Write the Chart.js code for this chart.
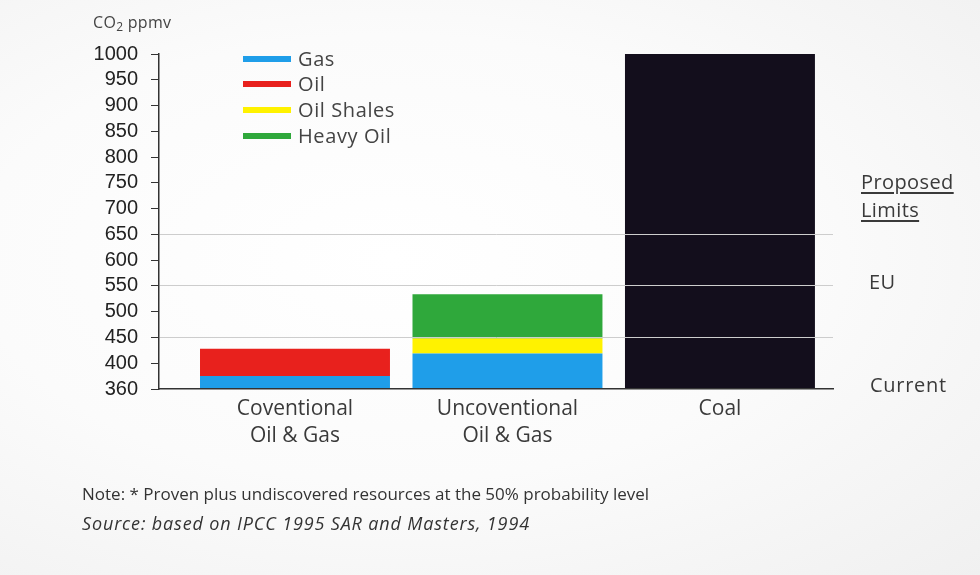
<!DOCTYPE html>
<html><head><meta charset="utf-8">
<script src="https://cdn.jsdelivr.net/npm/chart.js@4/dist/chart.umd.min.js"></script>
<style>
html,body{margin:0;padding:0;background:#f5f5f5;}
#wrap{position:relative;width:980px;height:575px;overflow:hidden;
  background:radial-gradient(ellipse at 40% 45%, #ffffff 0%, #fbfbfb 50%, #f0f0f0 100%);
  font-family:"Open Sans",sans-serif;color:#3a3a3a;}
#c{position:absolute;left:0;top:0;}
.lbl{position:absolute;white-space:nowrap;line-height:24px;}
.leg{position:absolute;left:243px;height:24px;line-height:24px;font-size:20px;letter-spacing:0.6px;color:#444;white-space:nowrap;}
.leg i{position:absolute;left:0;top:9px;width:48px;height:6px;}
.leg span{position:absolute;left:55px;top:0;}
</style></head>
<body>
<div id="wrap">
  <canvas id="c" width="980" height="575"></canvas>
  <div class="lbl" style="left:93px;top:10px;font-size:16px;color:#444;letter-spacing:0.3px;">CO<span style="font-size:12px;vertical-align:-3px;">2</span> ppmv</div>
  <div class="lbl" style="left:861px;top:170px;font-size:20px;letter-spacing:0.4px;text-decoration:underline;text-underline-offset:3px;">Proposed</div>
  <div class="lbl" style="left:861px;top:198px;font-size:20px;letter-spacing:0.4px;text-decoration:underline;text-underline-offset:3px;">Limits</div>
  <div class="lbl" style="left:869px;top:270px;font-size:20px;letter-spacing:0.4px;">EU</div>
  <div class="lbl" style="left:870px;top:373px;font-size:20px;letter-spacing:0.7px;">Current</div>
  <div class="lbl" style="left:82px;top:482px;font-size:17px;color:#333;">Note: * Proven plus undiscovered resources at the 50% probability level</div>
  <div class="lbl" style="left:82px;top:511px;font-size:18px;color:#333;font-style:italic;letter-spacing:0.85px;">Source: based on IPCC 1995 SAR and Masters, 1994</div>
  <div id="legend"></div>
</div>
<script>
// ---- data ----
const categories = [['Coventional', 'Oil & Gas'], ['Uncoventional', 'Oil & Gas'], ['Coal']];
const categoryPos = [0, 1, 2];
// axis: bottom tick sits one 50-step below 400 but is labelled 360
const yTickValues = [350, 400, 450, 500, 550, 600, 650, 700, 750, 800, 850, 900, 950, 1000];
const yTickLabels = ['360', '400', '450', '500', '550', '600', '650', '700', '750', '800', '850', '900', '950', '1000'];
const limitLines = [450, 550, 650];
const axisBottom = 350;
// cumulative top of each segment (ppmv)
const gasTop = [375, 419, null];
const oilTop = [428, null, null];
const oilShalesTop = [null, 448, null];
const heavyOilTop = [null, 534, null];
const coalTop = [null, null, 1000];

const seriesNames = ['Gas', 'Oil', 'Oil Shales', 'Heavy Oil', 'Coal'];
const seriesTops = [gasTop, oilTop, oilShalesTop, heavyOilTop, coalTop];
const seriesColors = ['#1f9ee9', '#e8211d', '#fff200', '#2fa83b', '#130e1c'];
const legendItems = [0, 1, 2, 3];

// build floating segments from cumulative tops
const prev = categoryPos.map(() => axisBottom);
const datasets = seriesTops.map((tops, s) => {
  const data = [];
  tops.forEach((t, i) => {
    if (t !== null) { data.push({x: categoryPos[i], y: [prev[i], t]}); prev[i] = t; }
  });
  return {label: seriesNames[s], data, backgroundColor: seriesColors[s], borderWidth: 0,
          barPercentage: 0.894, categoryPercentage: 1, grouped: false};
});

// HTML legend
const lg = document.getElementById('legend');
const legendTops = [47, 72, 98, 124];
legendItems.forEach((s, k) => {
  const d = document.createElement('div');
  d.className = 'leg';
  d.style.top = legendTops[k] + 'px';
  d.innerHTML = '<i style="background:' + seriesColors[s] + '"></i><span>' + seriesNames[s] + '</span>';
  lg.appendChild(d);
});

new Chart(document.getElementById('c'), {
  type: 'bar',
  data: {datasets},
  options: {
    responsive: false,
    animation: false,
    layout: {padding: {top: 54, right: 147, bottom: 0, left: 0}},
    plugins: {legend: {display: false}, tooltip: {enabled: false}},
    scales: {
      x: {
        type: 'linear', min: -0.64, max: 2.532, offset: false,
        afterBuildTicks: s => { s.ticks = categoryPos.map(v => ({value: v})); },
        afterFit: s => { s.height = 186; },
        ticks: {
          callback: v => categories[categoryPos.indexOf(v)],
          font: {family: 'Open Sans', size: 21, lineHeight: 1.3},
          color: '#3a3a3a', padding: 6, maxRotation: 0, autoSkip: false
        },
        grid: {display: false, drawTicks: false},
        border: {display: true, color: '#333', width: 1.5, z: 2}
      },
      y: {
        min: 350, max: 1000,
        afterBuildTicks: s => { s.ticks = yTickValues.map(v => ({value: v})); },
        afterFit: s => { s.width = 159; },
        ticks: {
          callback: v => yTickLabels[yTickValues.indexOf(v)],
          font: {family: 'Liberation Sans', size: 20},
          color: '#222', padding: 13, autoSkip: false
        },
        grid: {
          z: 1,
          color: c => (c.tick && limitLines.includes(c.tick.value)) ? '#cdcdcd' : 'rgba(0,0,0,0)',
          tickColor: '#333', tickLength: 8, lineWidth: 1
        },
        border: {display: true, color: '#333', width: 1.5, z: 2}
      }
    }
  }
});
</script>
</body></html>
